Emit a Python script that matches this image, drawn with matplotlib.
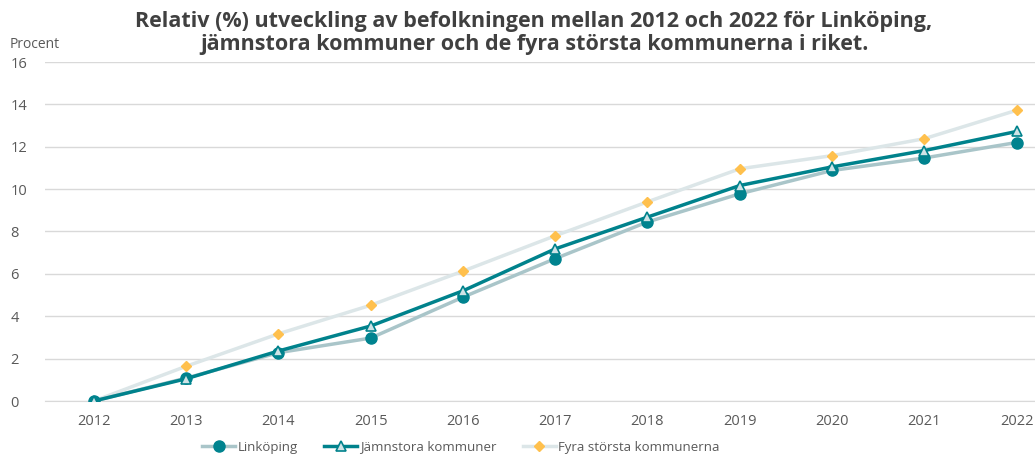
import matplotlib.pyplot as plt

years = [2012, 2013, 2014, 2015, 2016, 2017, 2018, 2019, 2020, 2021, 2022]
linkoping = [0, 1.08, 2.28, 2.97, 4.9, 6.72, 8.45, 9.78, 10.88, 11.47, 12.2]
jamnstora = [0, 1.05, 2.36, 3.54, 5.2, 7.18, 8.68, 10.17, 11.05, 11.82, 12.72]
fyra = [0, 1.64, 3.17, 4.52, 6.13, 7.8, 9.4, 10.96, 11.58, 12.38, 13.72]

plt.rcParams['font.family'] = ['Open Sans', 'DejaVu Sans']
grey = '#595959'

fig = plt.figure(figsize=(10.35, 4.61), dpi=100)
ax = fig.add_axes([45 / 1035, 60 / 461, 990 / 1035, 339 / 461])

# linjer
ax.plot(years, fyra, color='#DCE6E8', lw=2.5, marker='D', ms=5.5,
        mfc='#FFC04D', mec='#FFC04D', label='Fyra största kommunerna', zorder=3)
ax.plot(years, linkoping, color='#A9C5C9', lw=2.5, marker='o', ms=8,
        mfc='#00838F', mec='#00838F', label='Linköping', zorder=4)
ax.plot(years, jamnstora, color='#00828C', lw=2.5, marker='^', ms=7,
        mfc='#CFE3E6', mec='#00828C', mew=1.2, label='Jämnstora kommuner', zorder=5)

ax.set_xlim(2011.47, 2022.2)
ax.set_ylim(0, 16)
ax.set_yticks(range(0, 17, 2))
ax.set_xticks(years)
ax.grid(axis='y', color='#D9D9D9', lw=1)
ax.set_axisbelow(True)
for s in ax.spines.values():
    s.set_visible(False)
ax.spines['bottom'].set_visible(True)
ax.spines['bottom'].set_color('#D9D9D9')
ax.tick_params(length=0, colors=grey, labelsize=10.5)
ax.tick_params(axis='y', pad=25)
ax.tick_params(axis='x', pad=9)
for lab in ax.get_yticklabels():
    lab.set_horizontalalignment('left')

fig.text(10 / 1035, 1 - 44 / 461, 'Procent', color=grey, fontsize=10, va='center')
fig.text(0.516, 1 - 33 / 461,
         'Relativ (%) utveckling av befolkningen mellan 2012 och 2022 för Linköping,\n'
         'jämnstora kommuner och de fyra största kommunerna i riket.',
         ha='center', va='center', fontsize=15.5, fontweight='bold', color='#404040',
         linespacing=1.1)

h, l = ax.get_legend_handles_labels()
order = [1, 2, 0]
fig.legend([h[i] for i in order], [l[i] for i in order], loc='center',
           bbox_to_anchor=(461 / 1035, 1 - 447 / 461), ncol=3, frameon=False,
           fontsize=9.5, labelcolor=grey, handlelength=2.5, handletextpad=0.2,
           columnspacing=2.0)

fig.savefig('out.png', dpi=100)
